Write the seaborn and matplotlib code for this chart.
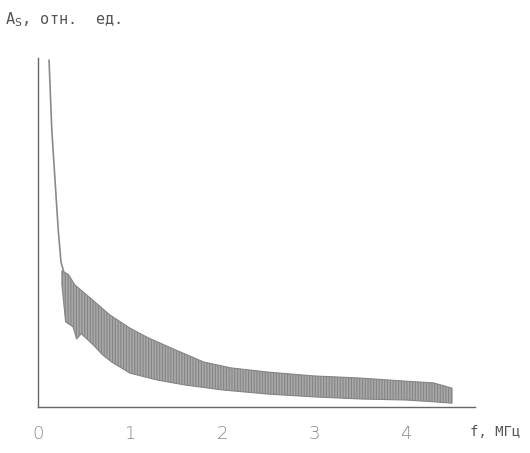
import numpy as np
import matplotlib
matplotlib.use("Agg")
import matplotlib.pyplot as plt
import seaborn as sns

# single trace at low frequency (f in MHz, A_S in relative units)
f_line = [0.12, 0.15, 0.185, 0.22, 0.25, 0.28]
a_line = [9.94, 7.94, 6.50, 5.07, 4.15, 3.87]

# envelope of the noisy band
f_upper = [0.26, 0.28, 0.33, 0.40, 0.57, 0.78, 1.0, 1.2, 1.5, 1.8, 2.1, 2.5, 3.0, 3.5, 4.0, 4.3, 4.5]
a_upper = [3.90, 3.87, 3.80, 3.50, 3.12, 2.64, 2.26, 1.98, 1.63, 1.29, 1.12, 1.00, 0.89, 0.83, 0.74, 0.69, 0.54]
f_lower = [0.26, 0.30, 0.38, 0.42, 0.47, 0.60, 0.70, 0.80, 1.0, 1.3, 1.6, 2.0, 2.5, 3.0, 3.5, 4.0, 4.3, 4.5]
a_lower = [3.50, 2.44, 2.30, 1.95, 2.10, 1.78, 1.50, 1.29, 0.97, 0.77, 0.63, 0.49, 0.37, 0.29, 0.23, 0.20, 0.15, 0.11]

x_ticks = [0, 1, 2, 3, 4]

sns.set_style("white")
plt.rcParams["font.family"] = ["DejaVu Sans"]
plt.rcParams["hatch.linewidth"] = 0.8

fig = plt.figure(figsize=(5.3, 4.53), dpi=100)
ax = fig.add_axes([38 / 530, 1 - 407 / 453, (475 - 38) / 530, (407 - 58) / 453])

# band drawn on a common grid of the envelope frequencies
f_grid = np.array(sorted(set(f_upper) | set(f_lower)))
up = np.interp(f_grid, f_upper, a_upper)
lo = np.interp(f_grid, f_lower, a_lower)
ax.fill_between(f_grid, lo, up, facecolor="#a8a8a8", edgecolor="#858585",
                hatch="||||||", linewidth=0.8)
sns.lineplot(x=f_line, y=a_line, ax=ax, color="#8a8a8a", linewidth=1.2)

ax.set_xlim(0, 4.75)
ax.set_ylim(0, 10)
ax.set_yticks([])
ax.set_xticks(x_ticks)
ax.set_xticklabels([str(t) for t in x_ticks], color="#8a8a8a", fontsize=13,
                   fontfamily="DejaVu Sans", fontweight="light")
ax.tick_params(axis="x", length=4, width=0.8, color="#777777", pad=9, direction="out")
for side in ["top", "right"]:
    ax.spines[side].set_visible(False)
for side in ["left", "bottom"]:
    ax.spines[side].set_color("#666666")
    ax.spines[side].set_linewidth(1.0)

fig.text(5 / 530, 1 - 20 / 453, "A$_\\mathrm{S}$, отн.  ед.", fontsize=11,
         fontfamily="DejaVu Sans Mono", color="#555555", va="center")
fig.text(470 / 530, 1 - 432 / 453, "f, МГц", fontsize=10,
         fontfamily="DejaVu Sans Mono", color="#555555", va="center")

fig.savefig("out.png", dpi=100)
